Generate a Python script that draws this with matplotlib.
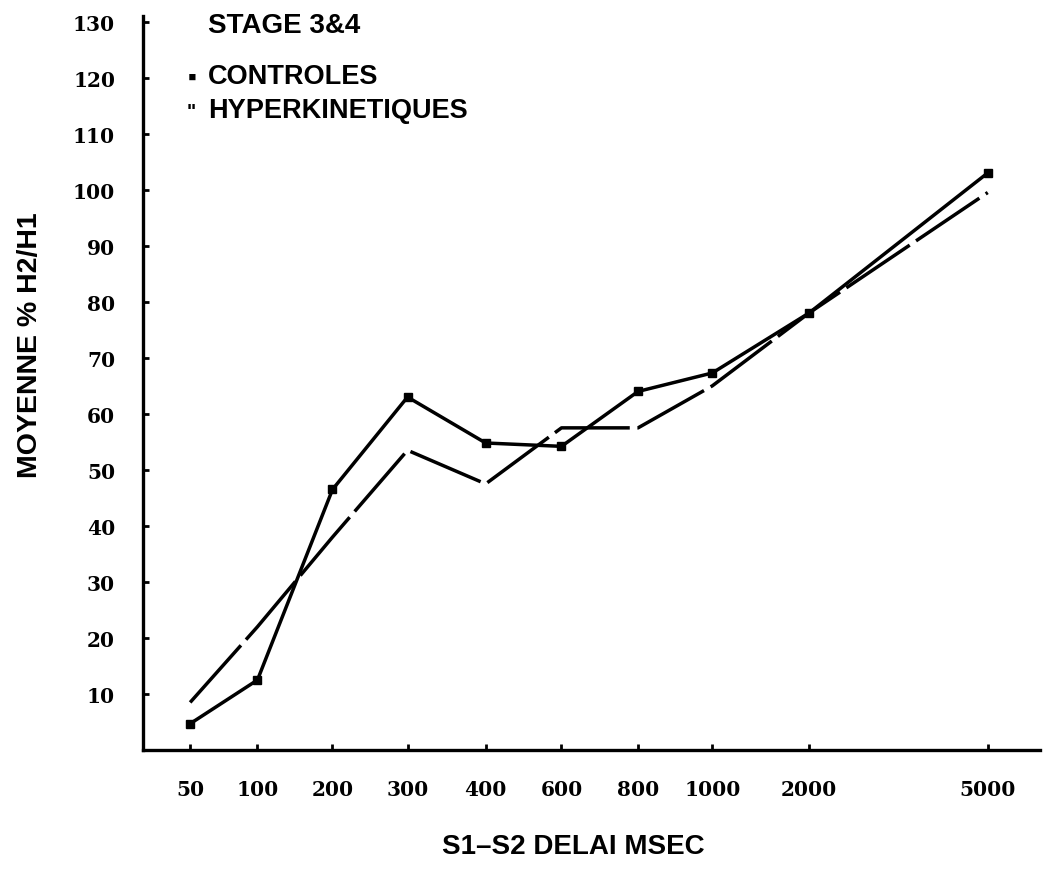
import numpy as np
import matplotlib
matplotlib.use("Agg")
import matplotlib.pyplot as plt

# S1-S2 delay (msec) categories and mean % H2/H1
delays = ["50", "100", "200", "300", "400", "600", "800", "1000", "2000", "5000"]
controles = [4.7, 12.5, 46.5, 63.0, 54.8, 54.2, 64.0, 67.3, 78.0, 103.0]
hyperkinetiques = [8.5, 22.0, 38.0, 53.5, 47.5, 57.5, 57.5, 65.0, 78.0, 99.5]
y_ticks = [10, 20, 30, 40, 50, 60, 70, 80, 90, 100, 110, 120, 130]

# category layout along the axis (uneven spacing like the original sheet)
x_pos = np.array([0, 0.87, 1.84, 2.81, 3.82, 4.8, 5.79, 6.75, 8.0, 10.31])

sans = ["Liberation Sans", "DejaVu Sans"]
serif = ["DejaVu Serif"]

fig = plt.figure(figsize=(10.45, 8.78), dpi=100)
ax = fig.add_axes([0.1368, 0.1446, 0.858, 0.836])

ax.plot(x_pos, controles, color="black", lw=2.5, marker="s", ms=5.5,
        solid_joinstyle="miter")
ax.plot(x_pos, hyperkinetiques, color="black", lw=2.5, dashes=(22, 2.2),
        solid_joinstyle="miter")

ax.set_xlim(-0.61, 10.98)
ax.set_ylim(0, 131)

for s in ["top", "right"]:
    ax.spines[s].set_visible(False)
for s in ["left", "bottom"]:
    ax.spines[s].set_linewidth(2.4)

ax.set_xticks(x_pos)
ax.set_xticklabels(delays)
ax.set_yticks(y_ticks)
ax.set_yticklabels([str(v) for v in y_ticks])
ax.tick_params(axis="both", direction="in", length=4, width=2)
ax.tick_params(axis="y", pad=20)
ax.tick_params(axis="x", pad=21)
for lab in ax.get_xticklabels() + ax.get_yticklabels():
    lab.set_family(serif)
    lab.set_fontsize(14.5)
    lab.set_fontweight("bold")

fig.text(0.029, 0.607, "MOYENNE % H2/H1", rotation=90, ha="center", va="center",
         family=sans, fontsize=20.5, fontweight="bold")
fig.text(0.549, 0.035, "S1\u2013S2 DELAI MSEC", ha="center", va="center",
         family=sans, fontsize=20, fontweight="bold")

# legend block written as text, like the original
fig.text(0.199, 0.970, "STAGE 3&4", ha="left", va="center",
         family=sans, fontsize=20, fontweight="bold")
fig.text(0.199, 0.912, "CONTROLES", ha="left", va="center",
         family=sans, fontsize=19.5, fontweight="bold")
fig.text(0.199, 0.874, "HYPERKINETIQUES", ha="left", va="center",
         family=sans, fontsize=19.5, fontweight="bold")
fig.text(0.184, 0.911, "\u25aa", ha="center", va="center",
         family=sans, fontsize=18)
fig.text(0.183, 0.872, "\"", ha="center", va="center",
         family=sans, fontsize=14, fontweight="bold")

fig.savefig("out.png", dpi=100)
